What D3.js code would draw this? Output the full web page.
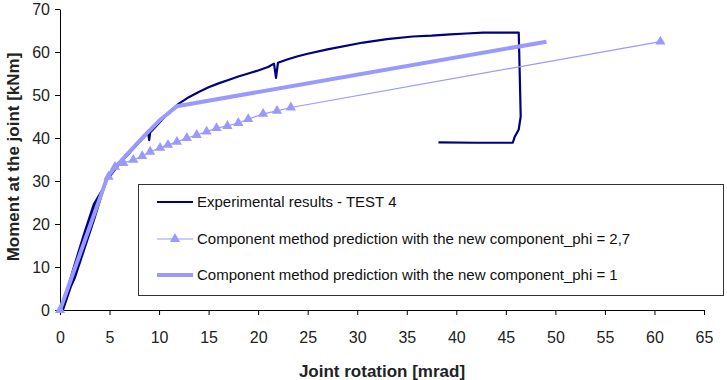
<!DOCTYPE html>
<html>
<head>
<meta charset="utf-8">
<script src="https://cdn.jsdelivr.net/npm/d3@7"></script>
<style>
  body { margin: 0; background: #fff; }
  svg { font-family: "Liberation Sans", Arial, sans-serif; }
  .tick text { fill: #222; font-size: 16px; }
  .axis path, .axis line { stroke: #000; }
</style>
</head>
<body>
<svg id="chart" width="727" height="380"></svg>
<script>
// joint rotation [mrad] / moment [kNm]
var expRot = [0, 1.5, 2.5, 3.5, 4.5, 3.5, 2.5, 1.5, 0.5, 0.3, 1.4, 2.4, 3.4, 4.4, 3.4, 2.4, 1.4,
  0.4, 0.1, 1.3, 2.4, 3.4, 4.6, 5.0, 6.0, 7.0, 8.0, 8.9, 9.0, 9.1, 10, 11, 12, 13, 14, 15, 16, 17,
  18, 19, 20, 21, 21.6, 21.8, 22.0, 23, 24, 25, 27, 30.6, 33, 35.6, 37.5, 39.4, 41, 42.7, 44.5,
  46.3, 46.4, 46.5, 46.3, 45.9, 45.7, 42, 38.2];
var expMom = [0, 7.5, 14.5, 21.5, 29, 24, 17, 9.5, 1.5, 0, 7.5, 14.5, 21.5, 28.5, 24.5, 17.5, 10,
  2, 0, 8, 15, 22, 30, 31, 34, 36.5, 39, 41.2, 39.5, 41.3, 43.5, 46, 48, 49.5, 50.7, 51.8, 52.7,
  53.5, 54.3, 55, 55.7, 56.5, 57.3, 54, 57.5, 58.3, 59, 59.6, 60.6, 62.2, 63, 63.6, 63.8, 64.1,
  64.3, 64.5, 64.5, 64.5, 55, 45, 42, 40.3, 38.9, 38.9, 39];

var phi27Rot = [0, 4.9, 5.55, 6.4, 7.4, 8.3, 9.1, 10.1, 10.9, 11.8, 12.8, 13.8, 14.8, 15.8, 16.9,
  18.0, 19.0, 20.5, 21.9, 23.3, 60.6];
var phi27Mom = [0, 31, 33.3, 34.2, 34.9, 35.8, 36.8, 37.7, 38.4, 39.1, 40.0, 40.7, 41.5, 42.3,
  42.8, 43.5, 44.4, 45.6, 46.3, 47.1, 62.4];

var phi1Rot = [0, 4.8, 5.5, 7, 8.5, 10, 11.8, 49.1];
var phi1Mom = [0, 31, 33, 36.8, 40.5, 44, 47.4, 62.4];

var xTicks = d3.range(0, 66, 5);
var yTicks = d3.range(0, 71, 10);

var legendLabels = [
  "Experimental results - TEST 4",
  "Component method prediction with the new component_phi = 2,7",
  "Component method prediction with the new component_phi = 1"
];

var svg = d3.select("#chart");
var x = d3.scaleLinear().domain([0, 65]).range([60, 704]);
var y = d3.scaleLinear().domain([0, 70]).range([310, 9]);

svg.append("g")
  .attr("class", "axis")
  .attr("transform", "translate(0,310)")
  .call(d3.axisBottom(x).tickValues(xTicks).tickSize(5).tickPadding(17).tickSizeOuter(0));

svg.append("g")
  .attr("class", "axis")
  .attr("transform", "translate(60,0)")
  .call(d3.axisLeft(y).tickValues(yTicks).tickSize(5).tickPadding(5).tickSizeOuter(0));

svg.append("text")
  .attr("x", 382)
  .attr("y", 377)
  .attr("text-anchor", "middle")
  .attr("font-weight", "bold")
  .attr("font-size", 17)
  .attr("fill", "#222")
  .text("Joint rotation [mrad]");

svg.append("text")
  .attr("transform", "translate(19,157) rotate(-90)")
  .attr("text-anchor", "middle")
  .attr("font-weight", "bold")
  .attr("font-size", 17)
  .attr("fill", "#222")
  .text("Moment at the joint [kNm]");

var line = d3.line().x(d => x(d[0])).y(d => y(d[1]));

var expData = expRot.map((r, i) => [r, expMom[i]]);
var phi27Data = phi27Rot.map((r, i) => [r, phi27Mom[i]]);
var phi1Data = phi1Rot.map((r, i) => [r, phi1Mom[i]]);

svg.append("path")
  .datum(expData)
  .attr("d", line)
  .attr("fill", "none")
  .attr("stroke", "#000080")
  .attr("stroke-width", 2.2)
  .attr("stroke-linejoin", "round");

svg.append("path")
  .datum(phi27Data)
  .attr("d", line)
  .attr("fill", "none")
  .attr("stroke", "#9999ff")
  .attr("stroke-width", 1.2);

var tri = d3.symbol().type(d3.symbolTriangle).size(45);
svg.append("g")
  .selectAll("path")
  .data(phi27Data)
  .join("path")
  .attr("transform", d => `translate(${x(d[0])},${y(d[1])})`)
  .attr("d", tri)
  .attr("fill", "#9999ff");

svg.append("path")
  .datum(phi1Data)
  .attr("d", line)
  .attr("fill", "none")
  .attr("stroke", "#9999ff")
  .attr("stroke-width", 4)
  .attr("stroke-linejoin", "round");

// legend
var legend = svg.append("g");
legend.append("rect")
  .attr("x", 138.5).attr("y", 184.5)
  .attr("width", 585).attr("height", 111)
  .attr("fill", "#fff")
  .attr("stroke", "#333");

var rowY = [202, 239, 275];
legendLabels.forEach(function(lbl, i) {
  var g = legend.append("g");
  g.append("line")
    .attr("x1", 157).attr("x2", 193)
    .attr("y1", rowY[i]).attr("y2", rowY[i])
    .attr("stroke", i === 0 ? "#000080" : "#9999ff")
    .attr("stroke-width", i === 0 ? 2.2 : (i === 1 ? 1.2 : 4));
  if (i === 1) {
    g.append("path")
      .attr("transform", `translate(175,${rowY[i]})`)
      .attr("d", tri)
      .attr("fill", "#9999ff");
  }
  g.append("text")
    .attr("x", 197)
    .attr("y", rowY[i])
    .attr("dy", "0.35em")
    .attr("font-size", 15)
    .attr("fill", "#111")
    .text(lbl);
});
</script>
</body>
</html>
